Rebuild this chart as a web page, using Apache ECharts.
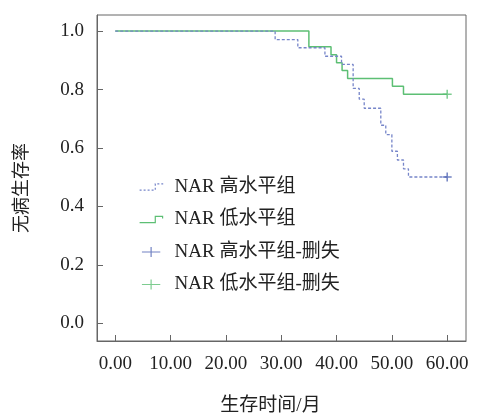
<!DOCTYPE html>
<html><head><meta charset="utf-8">
<script src="https://cdn.jsdelivr.net/npm/echarts@6/dist/echarts.min.js"></script>
<style>html,body{margin:0;padding:0;background:#fff}#c{width:482px;height:415px}</style>
</head><body><div id="c"></div>
<script>
const xTicks = [0, 10, 20, 30, 40, 50, 60];
const yTicks = [0, 0.2, 0.4, 0.6, 0.8, 1.0];
const seriesNames = ['NAR 高水平组', 'NAR 低水平组', 'NAR 高水平组-删失', 'NAR 低水平组-删失'];
const highTimes = [0, 28.9, 33.0, 37.9, 40.9, 43.0, 44.1, 45.0, 48.0, 48.9, 50.0, 51.0, 52.1, 53.0, 60];
const highSurv  = [1, 0.971, 0.943, 0.914, 0.886, 0.804, 0.767, 0.736, 0.678, 0.646, 0.589, 0.559, 0.529, 0.501, 0.501];
const lowTimes = [0, 35.0, 39.0, 40.0, 41.0, 42.0, 50.1, 52.1, 60];
const lowSurv  = [1, 0.946, 0.919, 0.892, 0.865, 0.838, 0.811, 0.784, 0.784];
const highCensorTimes = [60];
const highCensorSurv = [0.501];
const lowCensorTimes = [60];
const lowCensorSurv = [0.784];
const xName = '生存时间/月';
const yName = '无病生存率';

const BLUE = '#7685c9', BLUE_D = '#4d63b3', GREEN = '#5dbf74';
const FONT = "'Liberation Serif', 'Noto Sans CJK SC', serif";
const zip = (a, b) => a.map((v, i) => [v, b[i]]);
const cross = 'path://M0,5 L10,5 M5,0 L5,10';

const chart = echarts.init(document.getElementById('c'), null, {renderer: 'canvas'});
chart.setOption({
  animation: false,
  backgroundColor: '#fff',
  grid: {left: 97, right: 16, top: 15, bottom: 74, show: true, borderColor: '#666', borderWidth: 1,
         containLabel: false, outerBoundsMode: 'none'},
  xAxis: {
    type: 'value', min: -3.3, max: 63.4,
    name: xName, nameLocation: 'middle', nameGap: 56,
    nameTextStyle: {fontFamily: FONT, fontSize: 19, color: '#222', padding: [0, 22, 0, 0]},
    axisLine: {show: true, onZero: false, lineStyle: {color: '#666'}},
    axisTick: {show: true, inside: true, length: 6, customValues: xTicks, lineStyle: {color: '#666'}},
    axisLabel: {customValues: xTicks, formatter: v => v.toFixed(2), fontFamily: FONT, fontSize: 19, color: '#222', margin: 14},
    splitLine: {show: false}
  },
  yAxis: {
    type: 'value', min: -0.06, max: 1.055,
    name: yName, nameLocation: 'middle', nameGap: 66, nameRotate: 90,
    nameTextStyle: {fontFamily: FONT, fontSize: 18, color: '#222', padding: [0, 20, 0, 0]},
    axisLine: {show: true, onZero: false, lineStyle: {color: '#666'}},
    axisTick: {show: true, inside: true, length: 6, customValues: yTicks, lineStyle: {color: '#666'}},
    axisLabel: {customValues: yTicks, formatter: v => v.toFixed(1), fontFamily: FONT, fontSize: 19, color: '#222', margin: 13},
    splitLine: {show: false}
  },
  legend: {
    orient: 'vertical', left: 139, top: 177, padding: 0, itemWidth: 23, itemHeight: 10, itemGap: 12.5,
    textStyle: {fontFamily: FONT, fontSize: 19, lineHeight: 20, color: '#222', padding: [0, 0, 0, 7]},
    data: [
      {name: seriesNames[0], icon: 'path://M0,7 L15,7 L15,1 L22,1 L22,3', itemStyle: {color: 'rgba(0,0,0,0)', borderColor: BLUE, borderWidth: 1.2, borderType: [2, 2]}},
      {name: seriesNames[1], icon: 'path://M0,7 L15,7 L15,1 L22,1 L22,3', itemStyle: {color: 'rgba(0,0,0,0)', borderColor: GREEN, borderWidth: 1.2, borderType: 'solid'}},
      {name: seriesNames[2], icon: 'path://M0,6 L22,6 M11,0 L11,12', itemStyle: {color: 'rgba(0,0,0,0)', borderColor: BLUE_D, borderWidth: 1.2, borderType: 'solid'}},
      {name: seriesNames[3], icon: 'path://M0,6 L22,6 M11,0 L11,12', itemStyle: {color: 'rgba(0,0,0,0)', borderColor: GREEN, borderWidth: 1.2, borderType: 'solid'}}
    ]
  },
  series: [
    {name: seriesNames[1], type: 'line', step: 'end', data: zip(lowTimes, lowSurv), showSymbol: false, symbol: 'none',
     lineStyle: {color: GREEN, width: 1.5}, itemStyle: {color: GREEN}, z: 2},
    {name: seriesNames[0], type: 'line', step: 'end', data: zip(highTimes, highSurv), showSymbol: false, symbol: 'none',
     lineStyle: {color: BLUE, width: 1.3, type: [3, 2]}, itemStyle: {color: BLUE}, z: 3},
    {name: seriesNames[2], type: 'scatter', data: zip(highCensorTimes, highCensorSurv), symbol: cross, symbolSize: 9,
     itemStyle: {color: 'rgba(0,0,0,0)', borderColor: BLUE_D, borderWidth: 1.5}, z: 4},
    {name: seriesNames[3], type: 'scatter', data: zip(lowCensorTimes, lowCensorSurv), symbol: cross, symbolSize: 9,
     itemStyle: {color: 'rgba(0,0,0,0)', borderColor: GREEN, borderWidth: 1.5}, z: 4}
  ]
});
</script></body></html>
